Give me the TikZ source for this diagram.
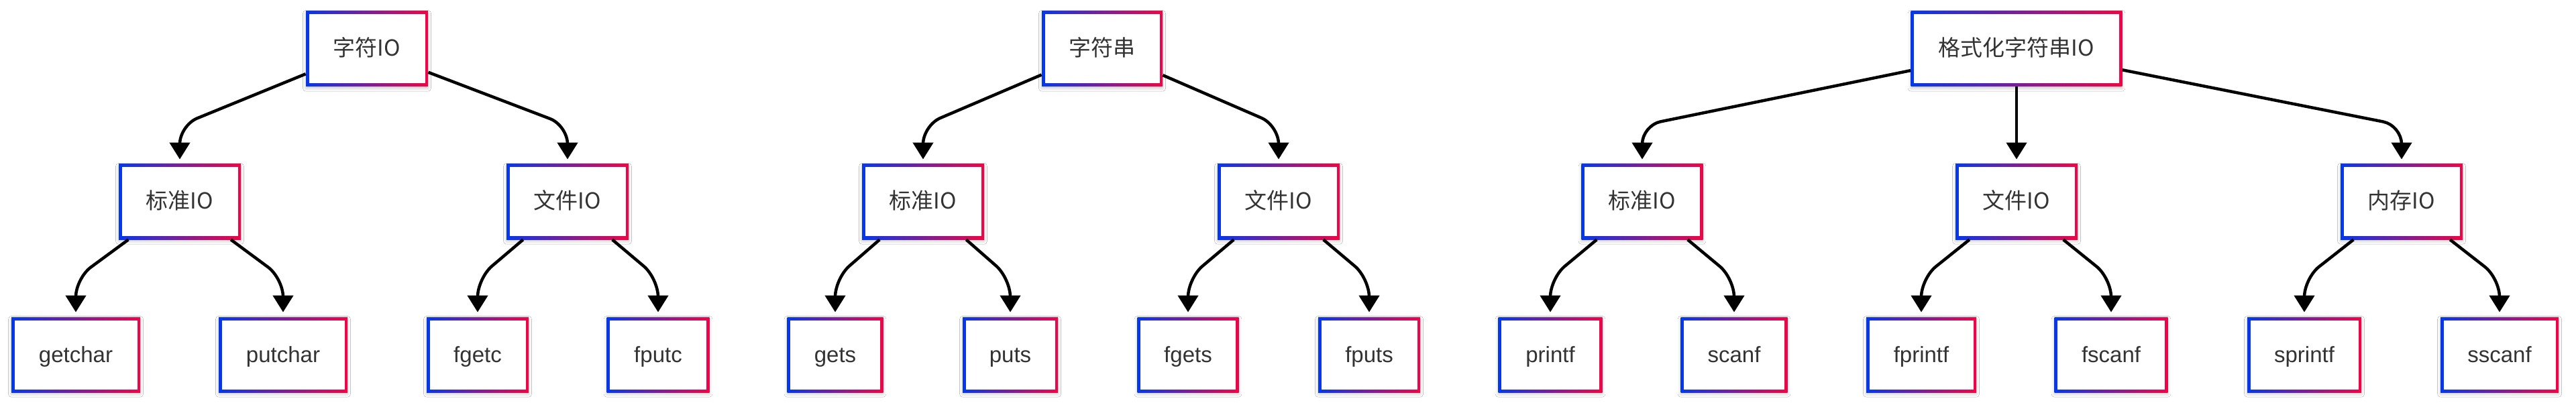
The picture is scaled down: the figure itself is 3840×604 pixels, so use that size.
\documentclass[tikz,border=0pt]{standalone}
\usepackage{fontspec}
\setmainfont{Liberation Sans}
\newfontfamily\cjk{Noto Sans CJK SC}
\usetikzlibrary{arrows.meta,shadows.blur,calc}
\definecolor{bdblue}{RGB}{5,55,235}
\definecolor{bdred}{RGB}{240,5,70}
\definecolor{txtgray}{RGB}{51,51,51}
\tikzset{
  gbox/.style={rectangle, inner sep=0pt, minimum height=56pt, fill=white,
    text=txtgray, font=\fontsize{16.5pt}{19pt}\selectfont,
    text height=14pt, text depth=3pt, align=center,
    blur shadow={shadow xshift=0pt, shadow yshift=-1.4pt, shadow blur radius=2.2pt, shadow opacity=22},
    path picture={
      \shade[left color=bdblue, right color=bdred]
        (path picture bounding box.south west) rectangle (path picture bounding box.north east);
      \fill[white]
        ($(path picture bounding box.south west)+(2.25pt,2.25pt)$) rectangle
        ($(path picture bounding box.north east)-(2.25pt,2.25pt)$);
    }},
  edge/.style={draw=black, line width=2.25pt, rounded corners=14pt,
    -{Triangle[width=15pt,length=12.5pt]}, shorten >=3.5pt}
}
\newcommand{\bx}[5]{\node[gbox, minimum width=#4*0.5pt] (#1) at (#2,#3) {#5};}
\begin{document}
\begin{tikzpicture}[x=0.5pt,y=-0.5pt]
\fill[white] (0,0) rectangle (3840,604);
\useasboundingbox (0,0) rectangle (3840,604);
\coordinate (L1) at (0,187);
\coordinate (L2) at (0,415);
% tree 1
\bx{a0}{547}{73}{182}{\cjk{字符}IO}
\bx{a1}{268}{301}{182}{\cjk{标准}IO}
\bx{a2}{846}{301}{182}{\cjk{文件}IO}
\bx{a11}{113}{529}{192}{getchar}
\bx{a12}{422}{529}{192}{putchar}
\bx{a21}{712}{529}{152}{fgetc}
\bx{a22}{981}{529}{153}{fputc}
% tree 2
\bx{b0}{1643}{73}{180}{\cjk{字符串}}
\bx{b1}{1376}{301}{182}{\cjk{标准}IO}
\bx{b2}{1906}{301}{182}{\cjk{文件}IO}
\bx{b11}{1245}{529}{143}{gets}
\bx{b12}{1506}{529}{142}{puts}
\bx{b21}{1771}{529}{151}{fgets}
\bx{b22}{2041}{529}{152}{fputs}
% tree 3
\bx{c0}{3006}{73}{315}{\cjk{格式化字符串}IO}
\bx{c1}{2448}{301}{181}{\cjk{标准}IO}
\bx{c2}{3006}{301}{182}{\cjk{文件}IO}
\bx{c3}{3580}{301}{182}{\cjk{内存}IO}
\bx{c11}{2311}{529}{155}{printf}
\bx{c12}{2585}{529}{159}{scanf}
\bx{c21}{2864}{529}{164}{fprintf}
\bx{c22}{3147}{529}{169}{fscanf}
\bx{c31}{3435}{529}{170}{sprintf}
\bx{c32}{3726}{529}{176}{sscanf}
% edges
\draw[edge] (a0) -- (a1 |- L1) -- (a1);
\draw[edge] (a0) -- (a2 |- L1) -- (a2);
\draw[edge] (a1) -- (a11 |- L2) -- (a11);
\draw[edge] (a1) -- (a12 |- L2) -- (a12);
\draw[edge] (a2) -- (a21 |- L2) -- (a21);
\draw[edge] (a2) -- (a22 |- L2) -- (a22);
\draw[edge] (b0) -- (b1 |- L1) -- (b1);
\draw[edge] (b0) -- (b2 |- L1) -- (b2);
\draw[edge] (b1) -- (b11 |- L2) -- (b11);
\draw[edge] (b1) -- (b12 |- L2) -- (b12);
\draw[edge] (b2) -- (b21 |- L2) -- (b21);
\draw[edge] (b2) -- (b22 |- L2) -- (b22);
\draw[edge] (c0) -- (c1 |- L1) -- (c1);
\draw[edge] (c0) -- (c2);
\draw[edge] (c0) -- (c3 |- L1) -- (c3);
\draw[edge] (c1) -- (c11 |- L2) -- (c11);
\draw[edge] (c1) -- (c12 |- L2) -- (c12);
\draw[edge] (c2) -- (c21 |- L2) -- (c21);
\draw[edge] (c2) -- (c22 |- L2) -- (c22);
\draw[edge] (c3) -- (c31 |- L2) -- (c31);
\draw[edge] (c3) -- (c32 |- L2) -- (c32);
\end{tikzpicture}
\end{document}
